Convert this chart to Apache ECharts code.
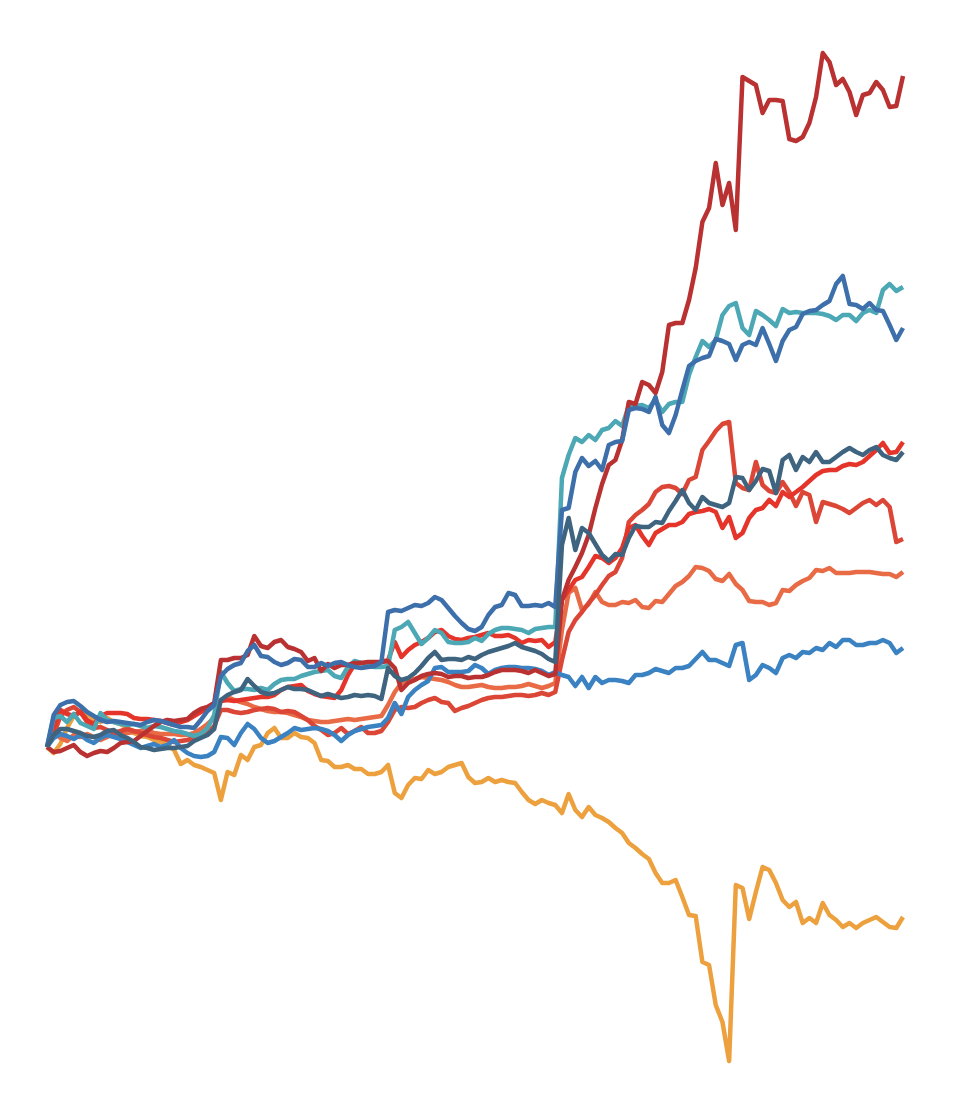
<!DOCTYPE html>
<html>
<head>
<meta charset="utf-8">
<script src="https://cdn.jsdelivr.net/npm/echarts@6/dist/echarts.min.js"></script>
<style>
html,body{margin:0;padding:0;background:#ffffff;}
#chart{width:958px;height:1100px;}
</style>
</head>
<body>
<div id="chart"></div>
<script>
// 129 periods (index labels)
const categories = Array.from({length: 129}, (_, i) => 'P' + (i + 1));

const darkRed = [0,-5,-4,-1,2,-5,-9,-6,-4,-5,-1,4,5,6,11,16,21,25,27,26,27,28,34,38,40,44,87,87,89,89,92,111,101,99,105,107,100,98,95,86,89,76,83,79,82,82,84,84,85,85,85,86,79,57,64,67,71,73,74,73,70,71,71,69,70,70,72,75,77,77,77,76,74,77,74,71,73,147,167,180,194,212,239,263,282,287,307,345,343,365,362,354,375,422,424,424,447,479,525,539,584,542,564,517,670,666,662,634,647,647,646,608,606,610,624,650,694,685,662,668,655,632,652,654,665,657,640,641,671];

const steelBlue = [0,32,42,45,46,41,35,31,27,25,26,25,24,23,22,25,27,26,24,22,20,20,19,27,36,42,71,78,82,84,96,102,91,90,85,82,84,88,87,80,80,84,81,84,85,82,80,79,80,81,85,135,137,136,139,142,141,144,150,147,139,131,124,118,116,120,132,140,142,154,152,141,141,142,141,144,140,237,239,275,289,281,286,277,302,305,306,337,339,338,335,350,322,314,332,357,381,386,389,391,408,406,403,387,402,405,402,419,403,386,406,417,420,433,436,437,442,446,463,471,443,442,438,444,437,436,422,407,419];

const teal = [0,29,31,25,33,24,21,18,34,27,25,23,22,23,21,19,21,20,18,16,15,13,11,13,19,32,75,64,56,58,58,57,59,57,63,67,68,68,71,73,75,76,77,71,69,80,86,84,81,80,80,81,117,120,125,114,103,109,117,114,105,104,104,105,109,106,113,117,119,119,118,117,114,118,119,120,120,269,292,309,305,312,307,317,319,326,321,341,341,342,339,347,335,343,345,345,372,390,406,400,407,432,441,444,419,412,436,432,427,421,438,434,435,434,434,434,433,431,427,432,432,426,434,437,434,457,463,456,460];

const brightRed = [0,19,37,33,31,35,27,23,31,34,34,34,33,29,28,28,27,26,24,22,25,27,31,35,39,43,46,47,46,47,48,49,50,50,52,57,60,61,62,56,53,51,50,49,57,72,83,84,84,84,85,87,105,90,97,102,105,109,115,117,111,108,107,109,110,112,114,111,111,112,109,104,107,106,107,100,105,147,157,167,170,180,191,189,184,189,199,219,222,211,202,214,218,222,222,225,233,235,236,238,235,219,230,209,214,229,237,239,247,241,255,250,255,260,266,272,276,277,277,281,283,282,285,291,297,304,294,295,305];

const red2 = [0,12,31,37,40,35,25,19,20,17,14,16,18,16,14,12,10,9,7,5,6,7,9,10,14,21,37,37,35,34,35,37,38,39,38,35,36,35,31,27,21,17,12,14,19,13,16,20,14,14,16,25,37,40,39,40,44,47,49,45,44,36,39,41,44,47,49,50,50,51,52,52,51,52,54,52,55,87,115,127,135,144,152,162,171,175,189,225,232,237,243,255,260,261,259,253,267,270,297,306,316,323,325,264,259,257,285,262,256,254,265,255,241,255,252,225,245,243,241,238,234,239,244,247,242,247,240,205,208];

const coral = [0,16,9,6,12,10,13,10,7,10,13,13,14,15,16,17,14,13,13,13,12,12,14,18,23,29,47,50,47,45,43,40,38,36,35,35,34,32,30,27,26,25,25,26,27,28,27,28,29,30,31,42,55,64,66,68,70,69,68,67,65,62,60,60,61,62,60,59,59,60,60,61,63,61,59,61,64,117,154,159,137,143,155,145,142,142,145,144,147,140,139,146,145,153,161,165,171,180,179,176,168,166,173,163,157,146,145,145,142,144,157,156,162,166,169,177,176,179,174,174,174,175,175,175,174,173,173,170,175];

const slate = [0,12,18,18,16,14,11,10,12,16,17,12,9,5,0,-1,-3,-2,-1,-1,0,1,6,9,12,18,47,52,55,57,68,61,55,53,54,57,60,58,58,57,54,51,53,51,49,50,52,51,52,51,48,79,71,67,69,74,81,89,95,87,88,88,87,90,88,92,95,97,99,101,104,100,98,96,93,88,85,202,229,197,219,214,203,192,186,193,192,209,221,220,220,225,224,236,246,257,244,237,250,244,242,240,244,270,269,257,266,278,276,254,287,292,277,290,285,295,285,285,290,295,299,295,292,297,300,292,289,287,295];

const blue = [0,9,13,11,8,12,7,4,9,12,10,8,5,2,-1,1,3,0,2,7,-1,-6,-9,-10,-9,-5,10,9,2,14,23,18,9,4,6,10,14,19,17,18,19,18,16,12,6,12,16,18,20,21,22,29,44,33,50,57,62,66,79,80,75,75,75,76,82,79,73,77,79,80,80,79,79,78,76,72,75,72,70,61,70,59,70,64,67,67,66,64,72,72,74,78,76,74,79,79,81,88,95,87,87,84,81,102,104,67,72,82,79,74,89,92,89,95,94,99,97,104,100,107,107,102,102,104,104,107,104,94,99];

const orange = [0,-6,3,19,31,36,33,28,25,29,25,23,19,14,11,10,7,5,2,-3,-17,-13,-18,-20,-23,-26,-53,-25,-28,-8,-13,0,2,14,19,9,9,14,10,9,4,-13,-14,-20,-20,-18,-22,-22,-27,-27,-25,-18,-46,-51,-38,-31,-32,-23,-27,-25,-20,-18,-16,-30,-36,-35,-31,-35,-33,-35,-36,-45,-53,-57,-53,-56,-58,-66,-47,-63,-70,-60,-68,-71,-75,-81,-86,-96,-101,-107,-112,-126,-136,-136,-133,-150,-168,-169,-215,-218,-258,-275,-314,-138,-141,-172,-145,-120,-123,-136,-153,-160,-155,-176,-171,-176,-156,-168,-173,-180,-176,-181,-176,-173,-170,-175,-180,-181,-170];

const seriesDefs = [
  {name: 'Orange',     data: orange,    color: '#eda13e'},
  {name: 'Coral',      data: coral,     color: '#e86b45'},
  {name: 'Red B',      data: red2,      color: '#db4636'},
  {name: 'Blue',       data: blue,      color: '#3a82c2'},
  {name: 'Red A',      data: brightRed, color: '#e5352b'},
  {name: 'Teal',       data: teal,      color: '#4ca8b5'},
  {name: 'Dark Red',   data: darkRed,   color: '#b93131'},
  {name: 'Steel Blue', data: steelBlue, color: '#3d6fab'},
  {name: 'Slate',      data: slate,     color: '#3e6480'}
];

const chart = echarts.init(document.getElementById('chart'), null, {renderer: 'canvas'});
chart.setOption({
  animation: false,
  backgroundColor: '#ffffff',
  grid: {left: 47, right: 55, top: 0, bottom: 0, containLabel: false},
  xAxis: {
    type: 'category',
    data: categories,
    boundaryGap: false,
    show: false
  },
  yAxis: {
    type: 'value',
    min: -353,
    max: 747,
    show: false,
    splitLine: {show: false}
  },
  series: seriesDefs.map(s => ({
    name: s.name,
    type: 'line',
    data: s.data,
    symbol: 'none',
    smooth: false,
    lineStyle: {width: 4.5, color: s.color, join: 'round'},
    itemStyle: {color: s.color}
  }))
});
</script>
</body>
</html>
